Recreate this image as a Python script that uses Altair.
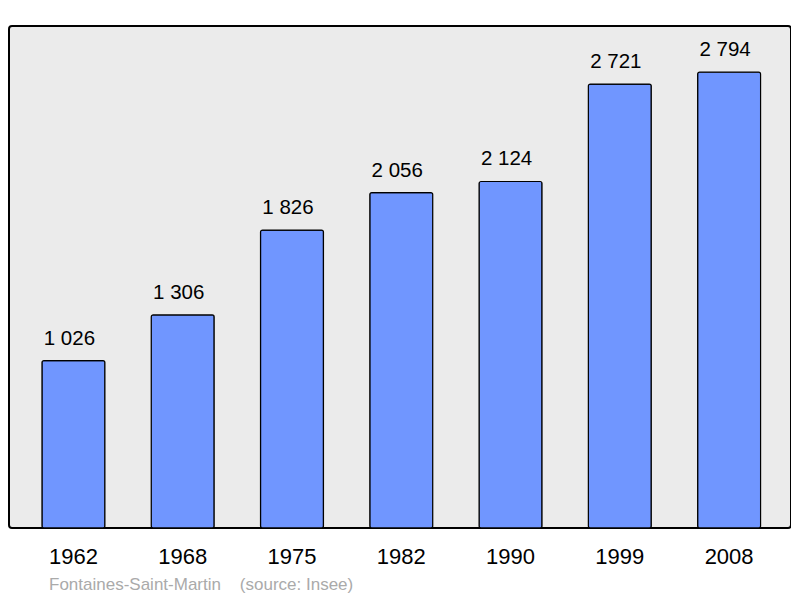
import altair as alt
import pandas as pd

years = ["1962", "1968", "1975", "1982", "1990", "1999", "2008"]
population = [1026, 1306, 1826, 2056, 2124, 2721, 2794]
labels = ["1 026", "1 306", "1 826", "2 056", "2 124", "2 721", "2 794"]

df = pd.DataFrame({"year": years, "pop": population, "label": labels})

x = alt.X("year:N", sort=years,
          scale=alt.Scale(paddingInner=0.424, paddingOuter=0.29, align=0.52),
          axis=alt.Axis(title=None, labelAngle=0, domain=False, ticks=False,
                        labelFontSize=22, labelFont="Liberation Sans",
                        labelColor="#000000", labelPadding=18))
y = alt.Y("pop:Q", scale=alt.Scale(domain=[0, 3077], nice=False, zero=True),
          axis=None)

bars = alt.Chart(df).mark_bar(color="#7096ff", stroke="#000000", strokeWidth=1.2,
                              cornerRadius=2).encode(x=x, y=y)
text = alt.Chart(df).mark_text(font="Liberation Sans", fontSize=20.5, color="#000000",
                               baseline="alphabetic", dy=-16, dx=-4).encode(
    x=x, y=y, text="label:N")

chart = (bars + text).properties(
    width=782, height=502,
    autosize=alt.AutoSizeParams(type="none"),
    padding={"left": 1, "top": 18, "right": 0, "bottom": 74},
    title=alt.TitleParams("Fontaines-Saint-Martin\u00a0\u00a0\u00a0\u00a0(source: Insee)",
                          orient="bottom", anchor="start", fontSize=17,
                          font="Liberation Sans", fontWeight="normal",
                          color="#aaaaaa", offset=10, dx=40),
).configure_view(fill="#ebebeb", stroke="#000000", strokeWidth=2, cornerRadius=3)

chart.save("out.html", embed_options={"renderer": "svg", "actions": False})
